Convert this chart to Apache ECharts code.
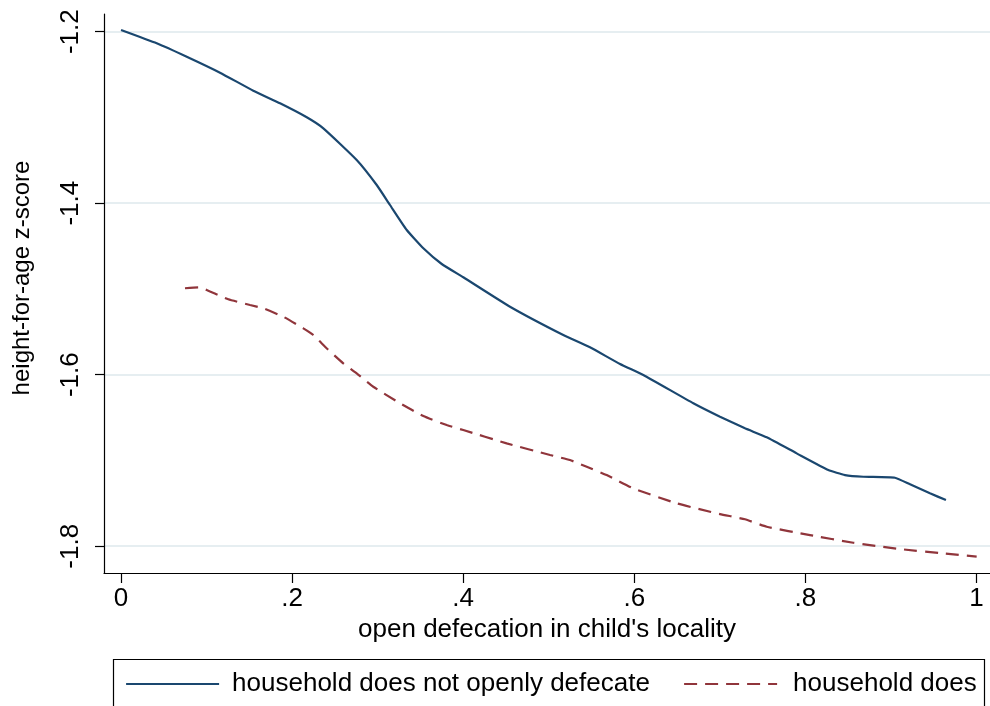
<!DOCTYPE html>
<html>
<head>
<meta charset="utf-8">
<script src="https://cdn.jsdelivr.net/npm/echarts@6/dist/echarts.min.js"></script>
<style>
html,body{margin:0;padding:0;background:#fff;}
#chart{width:990px;height:706px;}
</style>
</head>
<body>
<div id="chart"></div>
<script>
// ---- data ----
const notOpenX = [0.000, 0.0417, 0.0768, 0.1157, 0.1546, 0.1859, 0.2171, 0.2365, 0.2755, 0.2989, 0.3144, 0.3340, 0.3534, 0.3749, 0.4001, 0.4547, 0.5170, 0.5482, 0.5833, 0.6105, 0.6690, 0.7002, 0.7294, 0.7548, 0.7898, 0.8268, 0.8463, 0.8677, 0.9047, 0.9223, 0.9456, 0.9643];
const notOpenY = [-1.198, -1.2135, -1.2292, -1.2478, -1.2688, -1.2835, -1.2998, -1.3127, -1.3496, -1.3788, -1.4021, -1.4313, -1.4526, -1.4709, -1.4864, -1.5207, -1.5537, -1.5680, -1.5875, -1.6003, -1.6333, -1.6490, -1.6625, -1.6730, -1.6917, -1.7111, -1.7170, -1.7190, -1.7201, -1.7278, -1.7383, -1.7461];
const doesX = [0.0748, 0.0904, 0.1002, 0.1254, 0.1508, 0.1663, 0.1897, 0.2131, 0.2248, 0.2404, 0.2598, 0.2755, 0.2949, 0.3261, 0.3534, 0.3807, 0.4001, 0.4508, 0.5015, 0.5248, 0.5444, 0.5677, 0.5988, 0.6496, 0.7002, 0.7294, 0.7548, 0.8054, 0.8560, 0.9106, 0.9612, 1.0002];
const doesY = [-1.4992, -1.4981, -1.5012, -1.5121, -1.5187, -1.5226, -1.5324, -1.5459, -1.5537, -1.5692, -1.5867, -1.5984, -1.6140, -1.6333, -1.6482, -1.6587, -1.6645, -1.6800, -1.6936, -1.6995, -1.7073, -1.7170, -1.7325, -1.7500, -1.7625, -1.7686, -1.7773, -1.7870, -1.7959, -1.8033, -1.8083, -1.8122];
const xTicks = [0, 0.2, 0.4, 0.6, 0.8, 1];
const xTickLabels = ['0', '.2', '.4', '.6', '.8', '1'];
const yTicks = [-1.8, -1.6, -1.4, -1.2];
const yTickLabels = ['-1.8', '-1.6', '-1.4', '-1.2'];
const seriesNames = ['household does not openly defecate', 'household does'];
const xTitle = "open defecation in child's locality";
const yTitle = 'height-for-age z-score';

const zip = (xs, ys) => xs.map((x, i) => [x, ys[i]]);
const FONT = 'Liberation Sans, Arial, Helvetica, sans-serif';
const BLUE = '#1a476f';
const RED = '#90353b';

const chart = echarts.init(document.getElementById('chart'));
chart.setOption({
  animation: false,
  backgroundColor: '#ffffff',
  textStyle: { fontFamily: FONT },
  grid: { left: 104, right: 0, top: 14, bottom: 133, containLabel: false },
  xAxis: {
    type: 'value',
    min: -0.0199, max: 1.0158,
    name: xTitle,
    nameLocation: 'middle',
    nameGap: 42,
    nameTextStyle: { fontSize: 26, color: '#000', fontFamily: FONT },
    axisLine: { show: true, onZero: false, lineStyle: { color: '#000', width: 1.2 } },
    axisTick: { show: true, length: 10, customValues: xTicks, lineStyle: { color: '#000', width: 1.2 } },
    axisLabel: {
      customValues: xTicks, margin: 13, fontSize: 26, color: '#000', fontFamily: FONT,
      formatter: v => { const i = xTicks.findIndex(t => Math.abs(t - v) < 1e-6); return i >= 0 ? xTickLabels[i] : ''; }
    },
    splitLine: { show: false }
  },
  yAxis: {
    type: 'value',
    min: -1.8312, max: -1.1794,
    splitNumber: 3,
    axisLine: { show: true, onZero: false, lineStyle: { color: '#000', width: 1.2 } },
    axisTick: { show: true, length: 9, customValues: yTicks, lineStyle: { color: '#000', width: 1.2 } },
    axisLabel: {
      customValues: yTicks, rotate: 90, margin: 20, fontSize: 26, color: '#000', fontFamily: FONT,
      formatter: v => { const i = yTicks.findIndex(t => Math.abs(t - v) < 1e-6); return i >= 0 ? yTickLabels[i] : ''; }
    },
    splitLine: { show: true, showMinLine: true, showMaxLine: true, lineStyle: { color: '#e6eef1', width: 2 } }
  },
  legend: [
    {
      data: [seriesNames[0]], left: 120, top: 666, itemWidth: 93, itemHeight: 14,
      itemStyle: { opacity: 0 },
      lineStyle: { color: BLUE, width: 2.2 },
      textStyle: { fontSize: 26, color: '#000', fontFamily: FONT, padding: [0, 0, 0, 8] }
    },
    {
      data: [seriesNames[1]], left: 678, top: 666, itemWidth: 93, itemHeight: 14,
      itemStyle: { opacity: 0 },
      lineStyle: { color: RED, width: 2.2, type: [13, 8] },
      textStyle: { fontSize: 26, color: '#000', fontFamily: FONT, padding: [0, 0, 0, 11] }
    }
  ],
  graphic: [
    {
      type: 'rect', silent: true,
      shape: { x: 113.5, y: 659.5, width: 871, height: 80 },
      style: { fill: 'none', stroke: '#000', lineWidth: 1.2 }
    },
    {
      type: 'text', silent: true,
      x: 22, y: 278, rotation: Math.PI / 2,
      style: { text: yTitle, fontSize: 24, fill: '#000', fontFamily: FONT, align: 'center', verticalAlign: 'middle' }
    }
  ],
  series: [
    {
      name: seriesNames[0], type: 'line', data: zip(notOpenX, notOpenY),
      symbol: 'none', showSymbol: false, smooth: 0.15,
      lineStyle: { color: BLUE, width: 2.2 }, itemStyle: { color: BLUE }
    },
    {
      name: seriesNames[1], type: 'line', data: zip(doesX, doesY),
      symbol: 'none', showSymbol: false, smooth: 0.15,
      lineStyle: { color: RED, width: 2.2, type: [13, 8] }, itemStyle: { color: RED }
    }
  ]
});
</script>
</body>
</html>
